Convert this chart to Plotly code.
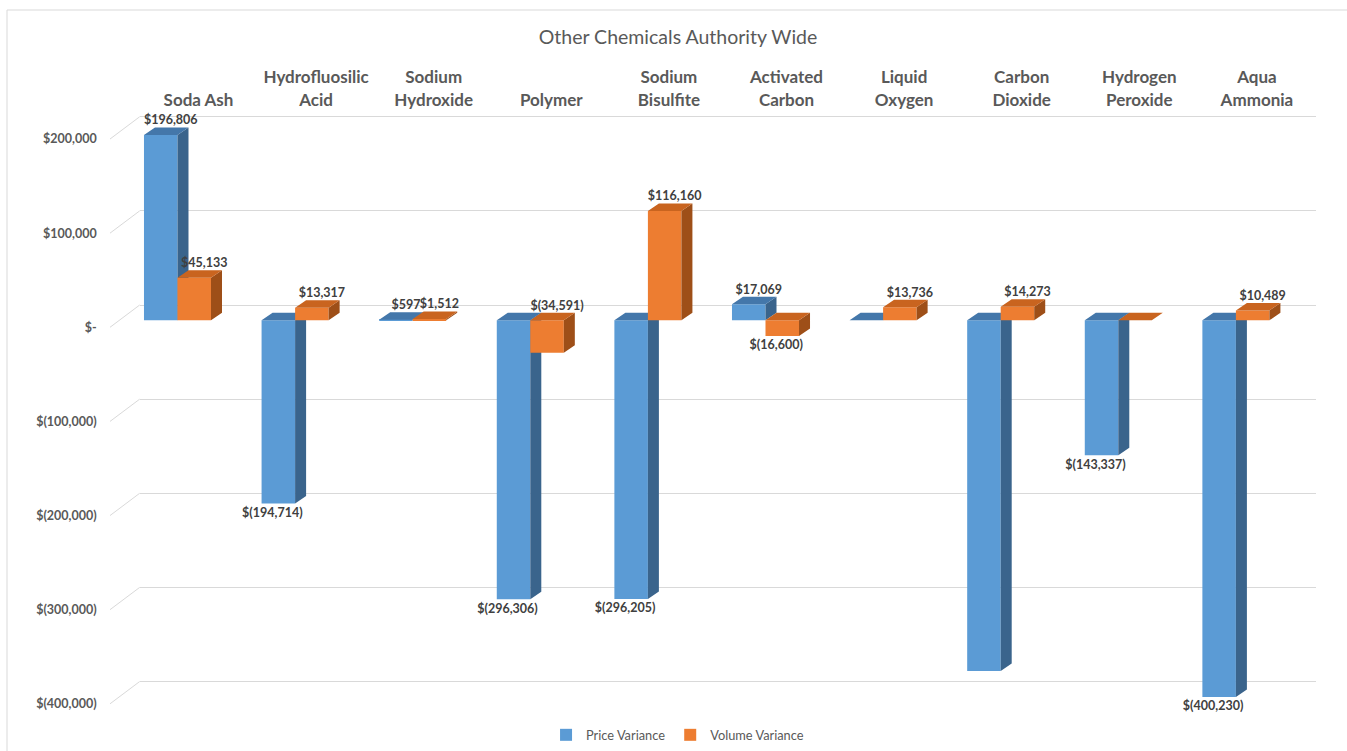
import plotly.graph_objects as go

# ---------------- data ----------------
category_labels = ["Soda Ash", "Hydrofluosilic<br>Acid", "Sodium<br>Hydroxide", "Polymer",
                   "Sodium<br>Bisulfite", "Activated<br>Carbon", "Liquid<br>Oxygen",
                   "Carbon<br>Dioxide", "Hydrogen<br>Peroxide", "Aqua<br>Ammonia"]
price_variance = [196806, -194714, 597, -296306, -296205, 17069, 0, -372500, -143337, -400230]
volume_variance = [45133, 13317, 1512, -34591, 116160, -16600, 13736, 14273, 0, 10489]
price_label_shown = [True, True, True, True, True, True, False, False, True, True]
volume_label_shown = [True, True, True, True, True, True, True, True, False, True]
y_tick_values = [200000, 100000, 0, -100000, -200000, -300000, -400000]
y_tick_labels = ["$200,000", "$100,000", "$-", "$(100,000)", "$(200,000)", "$(300,000)", "$(400,000)"]
series_names = ["Price Variance", "Volume Variance"]

# label placement style (not data)
volume_label_above = [True, True, True, True, True, False, True, True, True, True]

# ---------------- geometry / style ----------------
W, H = 1347, 751
K = 0.0009413            # px per value unit
FRONT_LEFT = 118.7
CAT_W = 117.6
BACK_DX = 21.0
ZERO_FRONT = 320.3
BACK_DY = 15.3
LABEL_DY = 7
PLOT_TOP, PLOT_BOT = 110.0, 720.0
BAR_W = 0.285
DEPTH_X = 11.0 / CAT_W
DEPTH_Y = 7.5 / K

n = len(category_labels)
xr = [-0.5, n - 0.5]
front_dom = [FRONT_LEFT / W, (FRONT_LEFT + n * CAT_W) / W]
back_dom = [(FRONT_LEFT + BACK_DX) / W, (FRONT_LEFT + BACK_DX + n * CAT_W) / W]
ydom = [1 - PLOT_BOT / H, 1 - PLOT_TOP / H]
yr_front = [-(PLOT_BOT - ZERO_FRONT) / K, (ZERO_FRONT - PLOT_TOP) / K]
zb = ZERO_FRONT - BACK_DY
yr_back = [-(PLOT_BOT - zb) / K, (zb - PLOT_TOP) / K]

BLUE = dict(front="#5B9BD5", top="#4477AA", side="#3A648C")
ORANGE = dict(front="#ED7D31", top="#C9641F", side="#9E4F18")
TEXT = "#404040"
GRAY = "#595959"
FONT = "Lato"


def fmt(v):
    return "${:,.0f}".format(v) if v >= 0 else "$({:,.0f})".format(-v)


def faces(values, left_offset):
    tx, ty, sx, sy = [], [], [], []
    for i, v in enumerate(values):
        x0 = i + left_offset
        x1 = x0 + BAR_W
        lo, hi = min(0, v), max(0, v)
        tx += [x0, x1, x1 + DEPTH_X, x0 + DEPTH_X, x0, None]
        ty += [hi, hi, hi + DEPTH_Y, hi + DEPTH_Y, hi, None]
        if hi > lo:
            sx += [x1, x1 + DEPTH_X, x1 + DEPTH_X, x1, x1, None]
            sy += [lo, lo + DEPTH_Y, hi + DEPTH_Y, hi, lo, None]
    return tx, ty, sx, sy


fig = go.Figure()

# back wall subplot (gridlines + category labels); empty trace so the subplot is created
fig.add_trace(go.Scatter(x=[], y=[], mode="markers", showlegend=False,
                         xaxis="x", yaxis="y", hoverinfo="skip"))

for values, left, col, name, xa, ya in [
    (price_variance, -BAR_W, BLUE, series_names[0], "x2", "y2"),
    (volume_variance, 0.0, ORANGE, series_names[1], "x3", "y3"),
]:
    fig.add_trace(go.Bar(x=list(range(n)), y=values, offset=left, width=BAR_W,
                         marker=dict(color=col["front"], line=dict(width=0)),
                         name=name, xaxis=xa, yaxis=ya, hoverinfo="skip"))
    tx, ty, sx, sy = faces(values, left)
    fig.add_trace(go.Scatter(x=sx, y=sy, mode="lines", fill="toself", fillcolor=col["side"],
                             line=dict(width=0, color=col["side"]), showlegend=False,
                             xaxis=xa, yaxis=ya, hoverinfo="skip"))
    fig.add_trace(go.Scatter(x=tx, y=ty, mode="lines", fill="toself", fillcolor=col["top"],
                             line=dict(width=0, color=col["top"]), showlegend=False,
                             xaxis=xa, yaxis=ya, hoverinfo="skip"))

# data labels (drawn in the top subplot)
for values, shown, left, above_list in [
    (price_variance, price_label_shown, -BAR_W, [v >= 0 for v in price_variance]),
    (volume_variance, volume_label_shown, 0.0, volume_label_above),
]:
    ux, uy, ut, dx_, dy_, dt = [], [], [], [], [], []
    for i, v in enumerate(values):
        if not shown[i]:
            continue
        c = i + left + BAR_W / 2
        if above_list[i]:
            ux.append(c + 10.0 / CAT_W)
            uy.append(max(0, v) + DEPTH_Y)
            ut.append(fmt(v))
        else:
            dx_.append(c - 6.0 / CAT_W)
            dy_.append(min(0, v) - 4.0 / K)
            dt.append(fmt(v))
    fig.add_trace(go.Scatter(x=ux, y=uy, text=ut, mode="text", textposition="top center",
                             textfont=dict(family=FONT, size=12.5, color=TEXT, weight="bold"),
                             showlegend=False, xaxis="x3", yaxis="y3", hoverinfo="skip"))
    fig.add_trace(go.Scatter(x=dx_, y=dy_, text=dt, mode="text", textposition="bottom center",
                             textfont=dict(family=FONT, size=12.5, color=TEXT, weight="bold"),
                             showlegend=False, xaxis="x3", yaxis="y3", hoverinfo="skip"))

# diagonal floor/wall connector lines of the 3D axis
shapes = []
for v in y_tick_values:
    shapes.append(dict(type="line", xref="paper", yref="y2", layer="below",
                       x0=110 / W, y0=v - LABEL_DY / K,
                       x1=(FRONT_LEFT + BACK_DX) / W, y1=v + BACK_DY / K,
                       line=dict(color="#D9D9D9", width=1)))
shapes.append(dict(type="rect", xref="paper", yref="paper", layer="below",
                   x0=7 / W, y0=1 - 10 / H, x1=1.02, y1=-0.02,
                   line=dict(color="#D9D9D9", width=1)))

fig.update_layout(
    width=W, height=H, autosize=False,
    margin=dict(l=0, r=0, t=0, b=0),
    paper_bgcolor="white", plot_bgcolor="rgba(0,0,0,0)",
    barmode="overlay",
    font=dict(family=FONT, color=GRAY),
    title=dict(text="Other Chemicals Authority Wide", x=678 / W, y=1 - 37 / H,
               xref="container", yref="container", xanchor="center", yanchor="middle",
               font=dict(family=FONT, size=19.5, color=GRAY)),
    xaxis=dict(domain=back_dom, range=xr, anchor="y", side="top", type="linear",
               tickvals=list(range(n)), ticktext=category_labels, showgrid=False,
               zeroline=False, showline=False, ticks="",
               tickfont=dict(family=FONT, size=17, color=GRAY, weight="bold")),
    yaxis=dict(domain=ydom, range=yr_back, anchor="x", tickvals=y_tick_values,
               showticklabels=False, showgrid=True, gridcolor="#D9D9D9", gridwidth=1,
               zeroline=False, showline=False, ticks=""),
    xaxis2=dict(domain=front_dom, range=xr, anchor="y2", visible=False, type="linear"),
    yaxis2=dict(domain=ydom, range=yr_front, anchor="x2", tickvals=y_tick_values,
                ticktext=y_tick_labels, showgrid=False, zeroline=False, showline=False,
                ticks="", ticklabelshift=LABEL_DY, ticklabelstandoff=21,
                tickfont=dict(family=FONT, size=12.5, color=GRAY, weight="bold")),
    xaxis3=dict(domain=front_dom, range=xr, anchor="y3", visible=False, type="linear"),
    yaxis3=dict(domain=ydom, range=yr_front, anchor="x3", visible=False),
    legend=dict(orientation="h", x=0.503, xanchor="center", y=1 - 735 / H, yanchor="middle",
                itemwidth=30, font=dict(family=FONT, size=12.8, color=GRAY),
                bgcolor="rgba(0,0,0,0)"),
    shapes=shapes,
    hovermode=False,
)

fig.write_html("out.html")
